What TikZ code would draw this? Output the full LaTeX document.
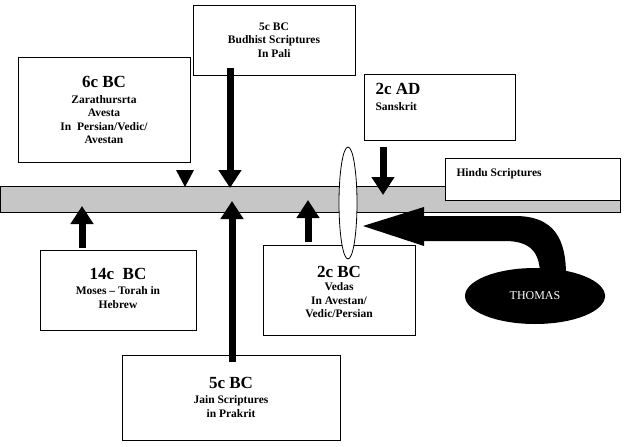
\documentclass[tikz,border=0pt]{standalone}
\usepackage{fontspec}
\setmainfont{Liberation Serif}
\usetikzlibrary{arrows.meta,shapes.geometric}
\begin{document}
\begin{tikzpicture}[x=1pt,y=-1pt,
 box/.style={draw,line width=0.8pt,fill=white},
 txt/.style={align=center,font=\fontsize{11.5}{13.5}\selectfont\bfseries},
 big/.style={font=\fontsize{17}{19}\selectfont\bfseries},
 arr/.style={line width=7pt,-{Triangle[length=18pt,width=22pt]}}]
\useasboundingbox (0,0) rectangle (632,447);
\fill[white] (0,0) rectangle (632,447);
% band
\draw[fill=gray!45,line width=0.8pt] (0,186) rectangle (620,212);
% boxes
\draw[box] (18,57) rectangle (190,162);
\node[txt] (z) at (104,110) {{\fontsize{17}{19}\selectfont 6c BC}\\[2pt]Zarathursrta\\Avesta\\In\ \ Persian/Vedic/\\Avestan};
\draw[box] (193,5) rectangle (355,75);
\node[txt] (b) at (274,40) {5c BC\\Budhist Scriptures\\In Pali};
\draw[box] (364,74) rectangle (515,140);
\node[txt,align=left,anchor=north west] (s) at (372,80) {{\fontsize{17}{19}\selectfont 2c AD}\\[2pt]Sanskrit};
\draw[box] (445,158) rectangle (620,200);
\node[txt,anchor=west] (h) at (453,174) {Hindu Scriptures};
\draw[box] (40,250) rectangle (196,330);
\node[txt] (m) at (118,288) {{\fontsize{17}{19}\selectfont 14c\ \ BC}\\[2pt]Moses -- Torah in\\Hebrew};
\draw[box] (263,245) rectangle (415,335);
\node[txt] (v) at (339,292) {{\fontsize{17}{19}\selectfont 2c BC}\\Vedas\\In Avestan/\\Vedic/Persian};
\draw[box] (122,355) rectangle (340,440);
\node[txt] (j) at (231,397) {{\fontsize{17}{19}\selectfont 5c BC}\\[2pt]Jain Scriptures\\in Prakrit};
% coordinates
\coordinate (bt) at (230,188);
\coordinate (bs) at (230,68);
\coordinate (js) at (232,362);
\coordinate (jt) at (232,201);
\coordinate (ms) at (82,248);
\coordinate (mt) at (82,206);
\coordinate (vs) at (308,242);
\coordinate (vt) at (308,200);
\coordinate (ss) at (383,147);
\coordinate (st) at (383,195);
% arrows
\fill (185,187) -- (176,170) -- (194,170) -- cycle;
\draw[arr] (bs) -- (bt);
\draw[arr] (js) -- (jt);
\draw[arr] (ms) -- (mt);
\draw[arr] (vs) -- (vt);
\draw[arr] (ss) -- (st);
% ellipse
\draw[fill=white,line width=0.8pt] (348,203) ellipse (9 and 56);
% Thomas
\fill (363,226) -- (424,207) -- (424,216) -- (515,216) .. controls (555,216) and (566,240) .. (566,275)
  -- (540,275) .. controls (540,252) and (530,241) .. (505,241) -- (424,241) -- (424,246) -- cycle;
\node[ellipse,fill=black,minimum width=140pt,minimum height=56pt,text=white,font=\fontsize{12}{14}\selectfont] (t) at (535,296) {THOMAS};
\end{tikzpicture}
\end{document}
